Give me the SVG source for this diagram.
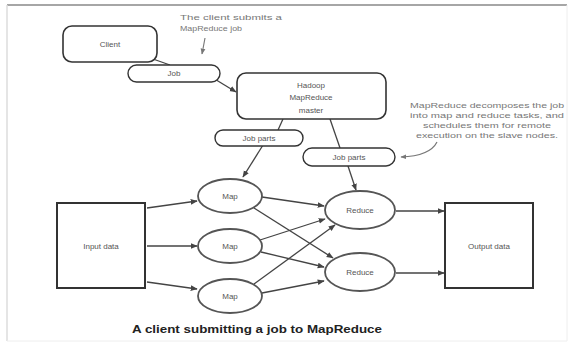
<svg xmlns="http://www.w3.org/2000/svg" width="572" height="343" viewBox="0 0 572 343">
  <style>
    .box { fill: #ffffff; stroke: #333333; stroke-width: 1.6; }
    .pill { fill: #ffffff; stroke: #333333; stroke-width: 1.4; }
    .node { fill: #ffffff; stroke: #555555; stroke-width: 1.8; }
    .data { fill: #ffffff; stroke: #333333; stroke-width: 2; }
    .edge { fill: none; stroke: #444444; stroke-width: 1.3; }
    .lbl { font-family: "Liberation Sans", Arial, sans-serif; font-size: 8px; fill: #555555; text-anchor: middle; dominant-baseline: central; }
    .note { font-family: "Liberation Sans", Arial, sans-serif; font-size: 8px; fill: #777777; text-anchor: middle; }
    .cap { font-family: "Liberation Sans", Arial, sans-serif; font-size: 10.5px; font-weight: bold; fill: #222222; text-anchor: middle; }
  </style>
  <defs>
    <marker id="arr" viewBox="0 0 10 10" refX="9" refY="5" markerWidth="7" markerHeight="7" orient="auto" markerUnits="userSpaceOnUse">
      <path d="M0,1 L10,5 L0,9 Z" fill="#444444"/>
    </marker>
    <marker id="arrNote" viewBox="0 0 10 10" refX="9" refY="5" markerWidth="6" markerHeight="6" orient="auto" markerUnits="userSpaceOnUse">
      <path d="M0,1 L10,5 L0,9 Z" fill="#777777"/>
    </marker>
  </defs>

  <!-- page frame -->
  <rect x="0" y="0" width="572" height="343" fill="#ffffff"/>
  <line x1="7" y1="5" x2="567" y2="5" stroke="#888888" stroke-width="1.5"/>
  <line x1="7" y1="5" x2="7" y2="341" stroke="#dddddd" stroke-width="1.5"/>
  <line x1="567" y1="5" x2="567" y2="341" stroke="#eeeeee" stroke-width="1"/>
  <line x1="7" y1="341" x2="567" y2="341" stroke="#eeeeee" stroke-width="1"/>

  <!-- connectors -->
  <g id="connectors">
    <line class="edge" x1="153" y1="59" x2="170" y2="65"/>
    <line class="edge" x1="213" y1="78" x2="236" y2="92" marker-end="url(#arr)"/>
    <line class="edge" x1="283" y1="119" x2="278" y2="130"/>
    <line class="edge" x1="263" y1="145" x2="243" y2="177" marker-end="url(#arr)"/>
    <line class="edge" x1="330" y1="119" x2="340" y2="148"/>
    <line class="edge" x1="348" y1="166" x2="356" y2="190" marker-end="url(#arr)"/>

    <line class="edge" x1="147" y1="208" x2="197" y2="201" marker-end="url(#arr)"/>
    <line class="edge" x1="147" y1="246" x2="197" y2="246" marker-end="url(#arr)"/>
    <line class="edge" x1="147" y1="282" x2="197" y2="289" marker-end="url(#arr)"/>

    <line class="edge" x1="262" y1="197" x2="324" y2="206" marker-end="url(#arr)"/>
    <line class="edge" x1="254" y1="208" x2="333" y2="258" marker-end="url(#arr)"/>
    <line class="edge" x1="260" y1="240" x2="325" y2="219" marker-end="url(#arr)"/>
    <line class="edge" x1="261" y1="252" x2="324" y2="267" marker-end="url(#arr)"/>
    <line class="edge" x1="254" y1="284" x2="335" y2="225" marker-end="url(#arr)"/>
    <line class="edge" x1="262" y1="293" x2="324" y2="281" marker-end="url(#arr)"/>

    <line class="edge" x1="396" y1="211" x2="444" y2="211" marker-end="url(#arr)"/>
    <line class="edge" x1="396" y1="273" x2="444" y2="273" marker-end="url(#arr)"/>

    <!-- annotation pointers -->
    <path d="M205,38 L202,54" fill="none" stroke="#777777" stroke-width="1.2" marker-end="url(#arrNote)"/>
    <path d="M437,142 Q430,156 401,157" fill="none" stroke="#777777" stroke-width="1.2" marker-end="url(#arrNote)"/>
  </g>

  <g id="client">
    <rect class="box" x="63" y="26" width="94" height="36" rx="9"/>
    <text class="lbl" x="110" y="44">Client</text>
  </g>

  <g id="job">
    <rect class="pill" x="128" y="65" width="92" height="17" rx="8.5"/>
    <text class="lbl" x="174" y="73.5">Job</text>
  </g>

  <g id="master">
    <rect class="box" x="237" y="73" width="149" height="46" rx="9"/>
    <text class="lbl" x="311" y="85">Hadoop</text>
    <text class="lbl" x="311" y="97.5">MapReduce</text>
    <text class="lbl" x="311" y="110">master</text>
  </g>

  <g id="job-parts-1">
    <rect class="pill" x="215" y="130" width="88" height="16" rx="8"/>
    <text class="lbl" x="259" y="138">Job parts</text>
  </g>

  <g id="job-parts-2">
    <rect class="pill" x="303" y="148" width="92" height="18" rx="9"/>
    <text class="lbl" x="349" y="157">Job parts</text>
  </g>

  <g id="input-data">
    <rect class="data" x="57" y="203" width="88" height="85"/>
    <text class="lbl" x="101" y="246">Input data</text>
  </g>

  <g id="map-1">
    <ellipse class="node" cx="230" cy="196" rx="32" ry="17"/>
    <text class="lbl" x="230" y="196">Map</text>
  </g>
  <g id="map-2">
    <ellipse class="node" cx="230" cy="246" rx="32" ry="17"/>
    <text class="lbl" x="230" y="246">Map</text>
  </g>
  <g id="map-3">
    <ellipse class="node" cx="230" cy="296" rx="32" ry="17"/>
    <text class="lbl" x="230" y="296">Map</text>
  </g>

  <g id="reduce-1">
    <ellipse class="node" cx="360" cy="210" rx="35" ry="19"/>
    <text class="lbl" x="360" y="210">Reduce</text>
  </g>
  <g id="reduce-2">
    <ellipse class="node" cx="360" cy="272" rx="35" ry="19"/>
    <text class="lbl" x="360" y="272">Reduce</text>
  </g>

  <g id="output-data">
    <rect class="data" x="445" y="203" width="88" height="85"/>
    <text class="lbl" x="489" y="246">Output data</text>
  </g>

  <g id="note-client">
    <text class="note" x="231" y="20" textLength="102" lengthAdjust="spacingAndGlyphs">The client submits a</text>
    <text class="note" x="211" y="31" textLength="62" lengthAdjust="spacingAndGlyphs">MapReduce job</text>
  </g>

  <g id="note-master">
    <text class="note" x="487" y="108" textLength="154" lengthAdjust="spacingAndGlyphs">MapReduce decomposes the job</text>
    <text class="note" x="487" y="118" textLength="154" lengthAdjust="spacingAndGlyphs">into map and reduce tasks, and</text>
    <text class="note" x="487" y="128" textLength="128" lengthAdjust="spacingAndGlyphs">schedules them for remote</text>
    <text class="note" x="487" y="138" textLength="142" lengthAdjust="spacingAndGlyphs">execution on the slave nodes.</text>
  </g>

  <text class="cap" x="257" y="333" textLength="250" lengthAdjust="spacingAndGlyphs">A client submitting a job to MapReduce</text>
</svg>
